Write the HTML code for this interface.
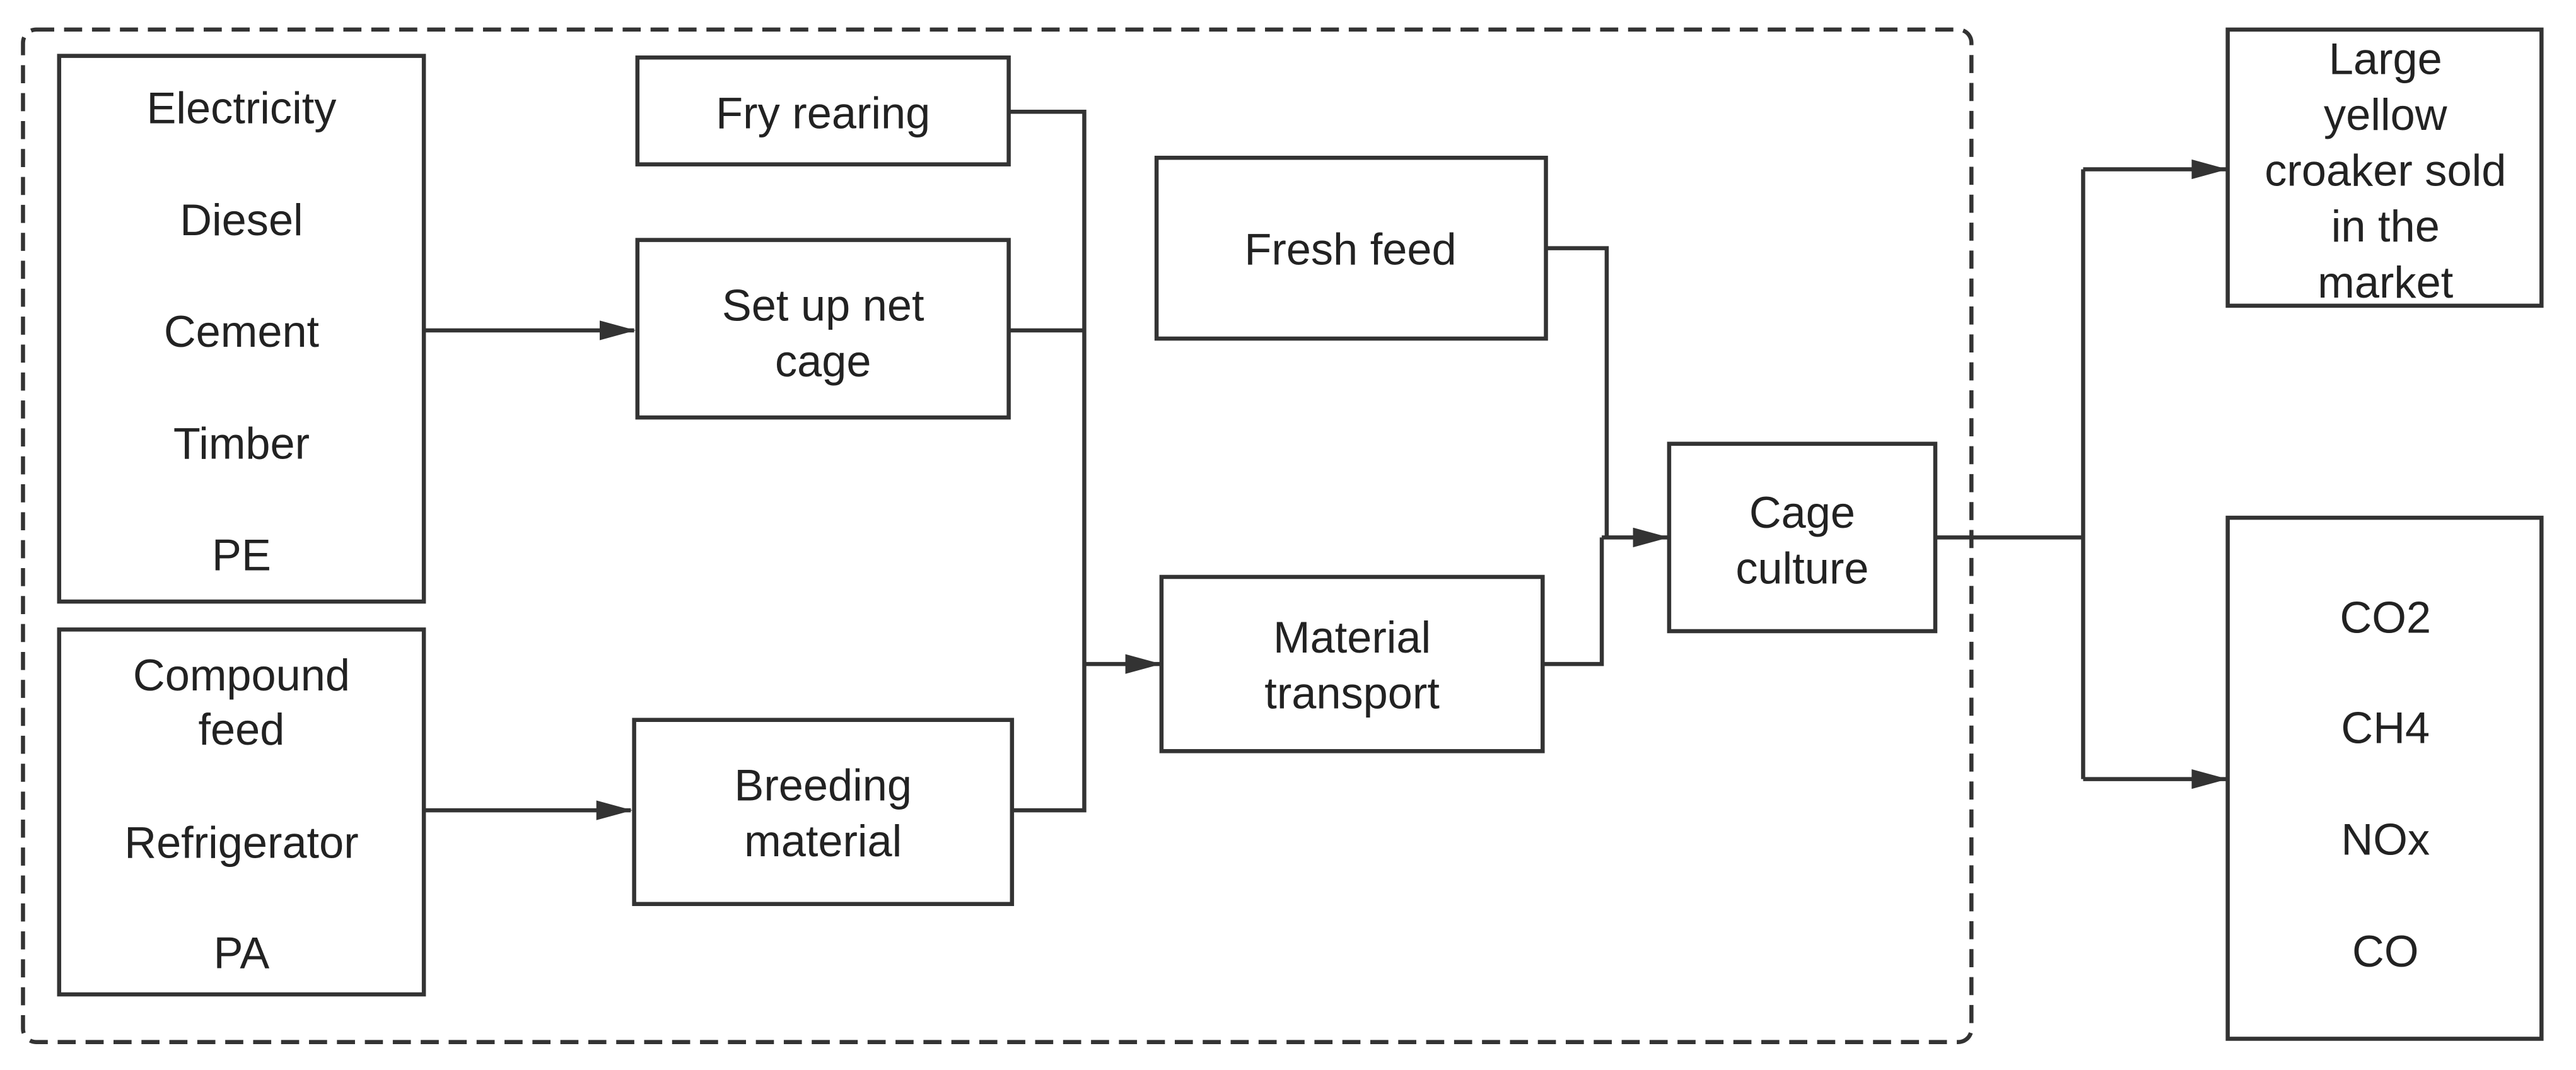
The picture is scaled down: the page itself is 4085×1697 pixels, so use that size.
<!DOCTYPE html>
<html><head><style>
html,body{margin:0;padding:0;background:#fff;width:4085px;height:1697px;overflow:hidden}
svg{display:block}
text{font-family:"Liberation Sans",sans-serif;font-size:27px;fill:#222;text-anchor:middle}
</style></head><body>
<svg width="4085" height="1697" viewBox="0 0 1568 651" preserveAspectRatio="none">
<defs>
<marker id="b" markerWidth="22" markerHeight="12" refX="21" refY="6" orient="auto" markerUnits="userSpaceOnUse"><path d="M0,0 L22,6 L0,12z" fill="#333"/></marker></defs>
<rect x="14" y="18" width="1186" height="616" rx="8" fill="none" stroke="#333" stroke-width="2.5" stroke-dasharray="11,6"/>
<g fill="none" stroke="#333" stroke-width="2.5">
<rect x="36" y="34" width="222" height="332"/>
<rect x="36" y="383" width="222" height="222"/>
<rect x="388" y="35" width="226" height="65"/>
<rect x="388" y="146" width="226" height="108"/>
<rect x="386" y="438" width="230" height="112"/>
<rect x="704" y="96" width="237" height="110"/>
<rect x="707" y="351" width="232" height="106"/>
<rect x="1016" y="270" width="162" height="114"/>
<rect x="1356" y="18" width="191" height="168"/>
<rect x="1356" y="315" width="191" height="317"/>
<path d="M614 68H660V493H616M614 201H660"/>
<path d="M941 151H978V327M939 404H975V327"/>
<path d="M1178 327H1268M1268 103V474"/>
<path d="M258 201H386" marker-end="url(#b)"/>
<path d="M258 493H384" marker-end="url(#b)"/>
<path d="M660 404H706" marker-end="url(#b)"/>
<path d="M975 327H1015" marker-end="url(#b)"/>
<path d="M1268 103H1355" marker-end="url(#b)"/>
<path d="M1268 474H1355" marker-end="url(#b)"/>
</g>
<text x="147" y="75">Electricity</text>
<text x="147" y="143">Diesel</text>
<text x="147" y="211">Cement</text>
<text x="147" y="279">Timber</text>
<text x="147" y="347">PE</text>
<text x="147" y="420">Compound</text>
<text x="147" y="453">feed</text>
<text x="147" y="522">Refrigerator</text>
<text x="147" y="589">PA</text>
<text x="501" y="78">Fry rearing</text>
<text x="501" y="195">Set up net</text>
<text x="501" y="229">cage</text>
<text x="501" y="487">Breeding</text>
<text x="501" y="521">material</text>
<text x="822" y="161">Fresh feed</text>
<text x="823" y="397">Material</text>
<text x="823" y="431">transport</text>
<text x="1097" y="321">Cage</text>
<text x="1097" y="355">culture</text>
<text x="1452" y="45">Large</text>
<text x="1452" y="79">yellow</text>
<text x="1452" y="113">croaker sold</text>
<text x="1452" y="147">in the</text>
<text x="1452" y="181">market</text>
<text x="1452" y="385">CO2</text>
<text x="1452" y="452">CH4</text>
<text x="1452" y="520">NOx</text>
<text x="1452" y="588">CO</text>
</svg>
</body></html>
